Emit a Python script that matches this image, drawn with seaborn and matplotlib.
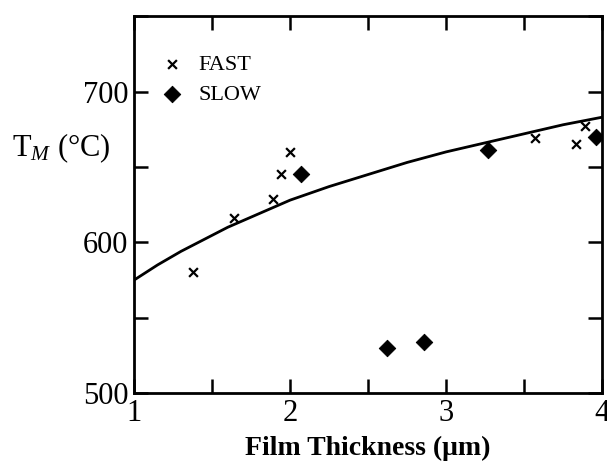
import numpy as np
import pandas as pd
import matplotlib.pyplot as plt
import seaborn as sns
from matplotlib.ticker import MultipleLocator, FuncFormatter

sns.set_style('ticks')
plt.rcParams['font.family'] = ['Liberation Serif', 'DejaVu Serif']
plt.rcParams['mathtext.fontset'] = 'custom'
plt.rcParams['mathtext.rm'] = 'Liberation Serif'
plt.rcParams['mathtext.it'] = 'Liberation Serif:italic'
plt.rcParams['text.color'] = 'black'
plt.rcParams['axes.labelcolor'] = 'black'

# measured points
fast_x = [1.38, 1.64, 1.89, 1.94, 2.0, 3.57, 3.83, 3.89]
fast_y = [580, 616, 629, 645, 660, 669, 665, 677]
slow_x = [2.07, 2.62, 2.86, 3.27, 3.96]
slow_y = [645, 530, 534, 661, 670]

# model curve
curve_x = [1.0, 1.15, 1.3, 1.45, 1.6, 1.8, 2.0, 2.25, 2.5, 2.75, 3.0, 3.25, 3.5, 3.75, 4.0]
curve_y = [575, 585, 594, 602, 610, 619, 628, 637, 645, 653, 660, 666, 672, 678, 683]

fast = pd.DataFrame({'thickness': fast_x, 'tm': fast_y})
slow = pd.DataFrame({'thickness': slow_x, 'tm': slow_y})
curve = pd.DataFrame({'thickness': curve_x, 'tm': curve_y})

fig = plt.figure(figsize=(6.07, 4.63), dpi=100)
ax = fig.add_axes([0.221, 0.151, 0.771, 0.814])

sns.lineplot(data=curve, x='thickness', y='tm', color='black', linewidth=2, ax=ax)
sns.scatterplot(data=fast, x='thickness', y='tm', marker='x', s=40, color='black',
                linewidth=1.6, label='FAST', ax=ax)
sns.scatterplot(data=slow, x='thickness', y='tm', marker='D', s=70, color='black',
                edgecolor='black', label='SLOW', ax=ax)

ax.set_xlim(1, 4)
ax.set_ylim(500, 750)
ax.xaxis.set_major_locator(MultipleLocator(0.5))
ax.yaxis.set_major_locator(MultipleLocator(50))
ax.xaxis.set_major_formatter(FuncFormatter(lambda v, p: f'{v:.0f}' if v == int(v) else ''))
ax.yaxis.set_major_formatter(FuncFormatter(lambda v, p: f'{v:.0f}' if v % 100 == 0 else ''))
ax.tick_params(direction='in', length=10, width=1.8, top=True, right=True,
               labelsize=22, colors='black', pad=4)
for sp in ax.spines.values():
    sp.set_visible(True)
    sp.set_linewidth(2)
    sp.set_color('black')

ax.set_xlabel('Film Thickness (μm)', fontsize=20, fontweight='bold', labelpad=6)
ax.set_ylabel('')
fig.text(0.02, 0.68, r'T$_M$ (°C)', fontsize=22, ha='left', va='center')

ax.legend(loc='upper left', bbox_to_anchor=(0.0, 0.97), frameon=False, fontsize=16,
          handlelength=1.0, handletextpad=0.7, borderaxespad=0.8, labelspacing=0.45)

fig.savefig('out.png', dpi=100)
